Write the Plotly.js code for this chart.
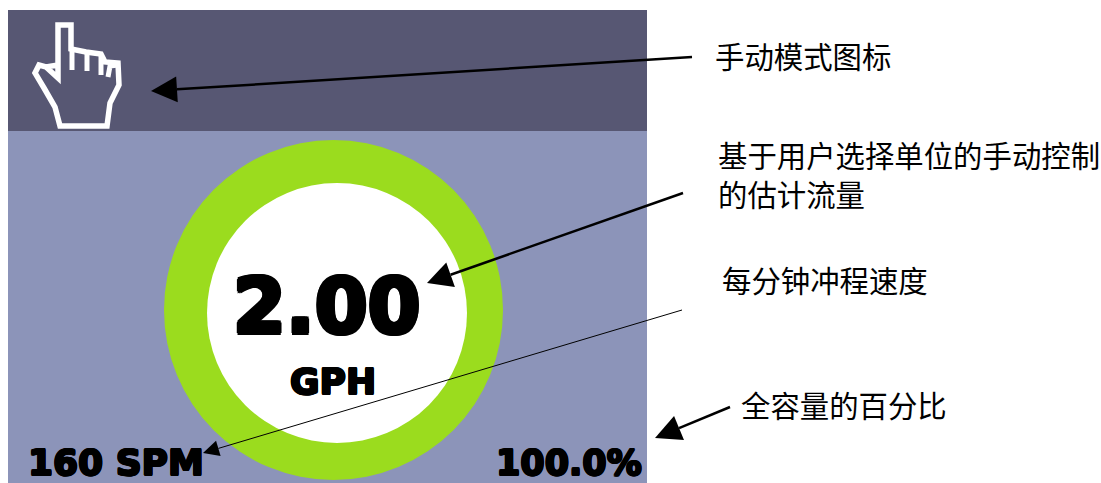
<!DOCTYPE html>
<html><head><meta charset="utf-8">
<script src="https://cdn.plot.ly/plotly-3.0.1.min.js"></script>
<style>html,body{margin:0;padding:0;background:#fff}#c{width:1101px;height:483px}</style>
</head><body><div id="c"></div>
<script>
var flowValue = "2.00";
var flowUnit = "GPH";
var strokeRate = "160 SPM";
var capacity = "100.0%";
var calloutTexts = ["手动模式图标", "基于用户选择单位的手动控制", "的估计流量", "每分钟冲程速度", "全容量的百分比"];
var calloutX = [714, 717, 717, 721, 740];
var calloutY = [55, 154, 193, 279, 404];
var arrowTail = [[692,57],[683,193],[682,310],[730,407]];
var arrowTip = [[151,91],[427,283],[203,453],[655,438]];
var arrowLen = [26,25,16,26];
var arrowWid = [26,26,16,26];
var arrowLine = [2.5,2.5,1,2.5];
var handOutline = [[58,78],[58,25],[71,25],[71,49],[86,52],[101,54],[105,62],[118,63],[119,85],[110,103],[107,126],[60,126],[55,107],[44,88],[35,73],[39,65],[46,67],[58,65],[58,78],[46,67]];
var handFingers = [[[72,49],[72,70]],[[87,52],[87,71]],[[101,54],[101,75]],[[118,65],[110,66],[108,77]]];

function pathOf(p, close){return "M"+p.map(function(q){return q[0]+","+q[1]}).join("L")+(close?"Z":"");}
var shapes = [
 {type:"rect",x0:8,x1:647,y0:10,y1:131,fillcolor:"#575773",line:{width:0}},
 {type:"rect",x0:8,x1:647,y0:131,y1:483,fillcolor:"#8c94b9",line:{width:0}},
 {type:"circle",x0:164,x1:503,y0:140,y1:480,fillcolor:"#9bdc1e",line:{width:0}},
 {type:"circle",x0:207,x1:467,y0:183,y1:443,fillcolor:"#ffffff",line:{width:0}},
 {type:"path",path:pathOf(handOutline),line:{color:"#fff",width:5.5},fillcolor:"rgba(0,0,0,0)"}
];
handFingers.forEach(function(f){shapes.push({type:"path",path:pathOf(f),line:{color:"#fff",width:5},fillcolor:"rgba(0,0,0,0)"});});
arrowTail.forEach(function(t,i){
  var h=arrowTip[i],dx=t[0]-h[0],dy=t[1]-h[1],d=Math.hypot(dx,dy),ux=dx/d,uy=dy/d;
  var bx=h[0]+ux*arrowLen[i],by=h[1]+uy*arrowLen[i],w=arrowWid[i]/2;
  shapes.push({type:"line",x0:t[0],y0:t[1],x1:bx,y1:by,line:{color:"#000",width:arrowLine[i]}});
  shapes.push({type:"path",path:pathOf([h,[bx-uy*w,by+ux*w],[bx+uy*w,by-ux*w]],true),fillcolor:"#000",line:{width:0}});
});
var bold="DejaVu Sans";
function ring(r){var a=[];[[1,0],[-1,0],[0,1],[0,-1],[.7,.7],[-.7,.7],[.7,-.7],[-.7,-.7]].forEach(function(o){a.push((o[0]*r).toFixed(2)+"px "+(o[1]*r).toFixed(2)+"px 0 #000");});return a.join(",");}
function big(text,x,y,size,anchor,r){return {text:"<b>"+text+"</b>",x:x,y:y,xref:"x",yref:"y",showarrow:false,xanchor:anchor,yanchor:"middle",borderpad:0,font:{family:bold,size:size,color:"#000",shadow:ring(r)}};}
var ann=[big(flowValue,327,306,76,"center",2.2),big(flowUnit,332.5,381,36,"center",1),big(strokeRate,27,462.5,36,"left",1),big(capacity,643,463,35,"right",1)];
calloutTexts.forEach(function(t,i){ann.push({text:t,x:calloutX[i],y:calloutY[i],xref:"x",yref:"y",showarrow:false,xanchor:"left",yanchor:"middle",borderpad:0,font:{family:"Noto Sans CJK SC",size:29.4,color:"#000"}});});
Plotly.newPlot("c",[],{
 width:1101,height:483,margin:{l:0,r:0,t:0,b:0},paper_bgcolor:"#fff",plot_bgcolor:"#fff",showlegend:false,
 xaxis:{range:[0,1101],visible:false,fixedrange:true},
 yaxis:{range:[483,0],visible:false,fixedrange:true},
 shapes:shapes,annotations:ann
},{displayModeBar:false,staticPlot:true});
</script></body></html>
